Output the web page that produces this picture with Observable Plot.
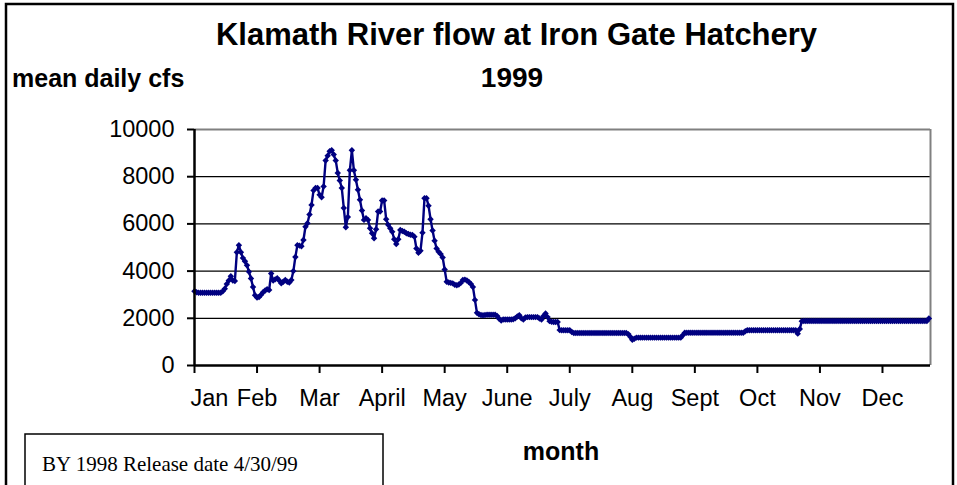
<!DOCTYPE html>
<html><head><meta charset="utf-8">
<script src="https://cdn.jsdelivr.net/npm/d3@7"></script>
<script src="https://cdn.jsdelivr.net/npm/@observablehq/plot@0.6"></script>
<style>
html,body{margin:0;padding:0;background:#fff;}
#wrap{position:relative;width:957px;height:485px;overflow:hidden;}
</style></head><body><div id="wrap"></div>
<script>
const titleText = "Klamath River flow at Iron Gate Hatchery";
const subtitleText = "1999";
const yLabelText = "mean daily cfs";
const xLabelText = "month";
const noteText = "BY 1998 Release date 4/30/99";

const monthLabels = ["Jan","Feb","Mar","April","May","June","July","Aug","Sept","Oct","Nov","Dec"];
const monthTickIndex = [0,31,62,93,124,155,186,217,248,279,310,341];
const yTicks = [0,2000,4000,6000,8000,10000];

// mean daily flow (cfs), one value per day
const flow = [
3150,3100,3080,3080,3080,3080,3080,3080,3080,3080,3080,3080,3080,3080,
3150,3250,3450,3600,3780,3600,3580,4800,5100,4800,4550,4420,4250,3970,3690,3330,2980,
2880,2900,3000,3100,3180,3230,3200,3900,3600,3650,
3700,3600,3480,3550,3620,3550,3520,3620,4000,4600,
5100,5080,5050,5320,5880,6030,6400,6800,
7420,7520,7520,7230,7130,7590,8690,8890,9080,9120,
8940,8690,8160,7840,7520,6670,5860,6290,8270,9120,
8270,7870,7450,7020,6570,6170,6240,6170,5815,5600,
5390,5770,6525,6525,6990,6990,
6200,5960,5815,5670,5350,5150,5350,5745,5700,5670,
5600,5570,5540,5530,5460,4960,4780,4860,5630,7090,
7090,6770,6200,5720,5290,4960,4820,4720,4580,4070,
3545,
3520,3500,3480,3420,3400,3430,3500,3620,3640,3600,
3540,3450,3330,2780,2230,2170,2140,2130,2140,2150,
2150,2150,2150,2150,2100,1980,1910,1950,1950,1950,
1950,1950,1960,2000,2080,2130,2000,1950,2030,2050,
2050,2050,2050,2050,2050,1990,1950,2100,2200,2050,
1880,1850,1840,1840,1840,
1500,1490,1490,1490,1490,1490,1420,
1375,1375,1375,1375,1375,1375,1375,1375,1375,1375,
1375,1375,1375,1375,1375,1375,1375,1375,1375,1375,
1375,1375,1375,1375,1375,1375,1375,
1330,1220,1090,1130,
1180,1180,1180,1180,1180,1180,1180,1180,1180,1180,
1180,1180,1180,1180,1180,1180,1180,1180,1180,1180,
1180,1180,1180,
1280,
1390,1390,1390,1390,1390,1390,1390,1390,1390,1390,
1390,1390,1390,1390,1390,1390,1390,1390,1390,1390,
1390,1390,1390,1390,1390,1390,1390,1390,1390,1390,
1450,
1490,1490,1490,1490,1490,1490,1490,1490,1490,1490,
1490,1490,1490,1490,1490,1490,1490,1490,1490,1490,
1490,1490,1490,1490,1490,
1350,1550,1880,
1885,1885,1885,1885,1885,1885,1885,1885,1885,1885,
1885,1885,1885,1885,1885,1885,1885,1885,1885,1885,
1885,1885,1885,1885,1885,1885,1885,1885,1885,1885,
1885,1885,1885,1885,1885,1885,1885,1885,1885,1885,
1885,1885,1885,1885,1885,1885,1885,1885,1885,1885,
1885,1885,1885,1885,1885,1885,1885,1885,1885,1885,
1885,1885,
1990
];

const data = flow.map((v, i) => ({day: i, cfs: v}));
const navy = "#000080";
const sans = "'Liberation Sans', Arial, sans-serif";
const xMax = 364.8;

const chart = Plot.plot({
  width: 957,
  height: 485,
  marginLeft: 194,
  marginRight: 27,
  marginTop: 129,
  marginBottom: 120,
  style: {fontFamily: sans, background: "white", color: "black", overflow: "visible"},
  x: {domain: [0, xMax], label: null},
  y: {domain: [0, 10000], label: null},
  marks: [
    Plot.ruleY(yTicks.filter(t => t > 0 && t < 10000), {stroke: "black", strokeWidth: 1.3}),
    Plot.ruleY([10000], {stroke: "#808080", strokeWidth: 2}),
    Plot.ruleX([xMax], {stroke: "#808080", strokeWidth: 2}),
    Plot.axisY({ticks: yTicks, label: null, tickSize: 7, tickPadding: 13, fontSize: 23.5, tickFormat: d => String(d), strokeWidth: 2}),
    Plot.axisX({ticks: monthTickIndex, label: null, tickSize: 8, tickFormat: () => "", strokeWidth: 2}),
    Plot.text(monthLabels.slice(0, 1), {x: (d, i) => monthTickIndex[i], frameAnchor: "bottom", dy: 40, dx: -4, textAnchor: "start", fontSize: 23.5, fill: "black"}),
    Plot.text(monthLabels.slice(1), {x: (d, i) => monthTickIndex[i + 1], frameAnchor: "bottom", dy: 40, textAnchor: "middle", fontSize: 23.5, fill: "black"}),
    Plot.line(data, {x: "day", y: "cfs", stroke: navy, strokeWidth: 2.4}),
    Plot.dot(data, {x: "day", y: "cfs", symbol: "diamond2", r: 2.9, fill: navy, stroke: "none"}),
    Plot.ruleY([0], {stroke: "black", strokeWidth: 2.5}),
    Plot.ruleX([0], {stroke: "black", strokeWidth: 2.5})
  ]
});

const svg = d3.select(chart);
svg.append("rect").attr("x", 6).attr("y", 4).attr("width", 947).attr("height", 520)
  .attr("fill", "none").attr("stroke", "black").attr("stroke-width", 2.5);
svg.append("text").text(titleText).attr("x", 516.5).attr("y", 45)
  .attr("text-anchor", "middle").attr("font-family", sans).attr("font-weight", "bold").attr("font-size", 31).attr("fill", "black");
svg.append("text").text(subtitleText).attr("x", 512).attr("y", 87)
  .attr("text-anchor", "middle").attr("font-family", sans).attr("font-weight", "bold").attr("font-size", 28).attr("fill", "black");
svg.append("text").text(yLabelText).attr("x", 12).attr("y", 87)
  .attr("text-anchor", "start").attr("font-family", sans).attr("font-weight", "bold").attr("font-size", 25).attr("fill", "black");
svg.append("text").text(xLabelText).attr("x", 561).attr("y", 460)
  .attr("text-anchor", "middle").attr("font-family", sans).attr("font-weight", "bold").attr("font-size", 25).attr("fill", "black");
svg.append("rect").attr("x", 25).attr("y", 434).attr("width", 358).attr("height", 70)
  .attr("fill", "white").attr("stroke", "black").attr("stroke-width", 1.5);
svg.append("text").text(noteText).attr("x", 42).attr("y", 471)
  .attr("text-anchor", "start").attr("font-family", "'Liberation Serif', 'Times New Roman', serif").attr("font-size", 21).attr("fill", "black");

document.getElementById("wrap").appendChild(chart);
</script>
</body></html>
